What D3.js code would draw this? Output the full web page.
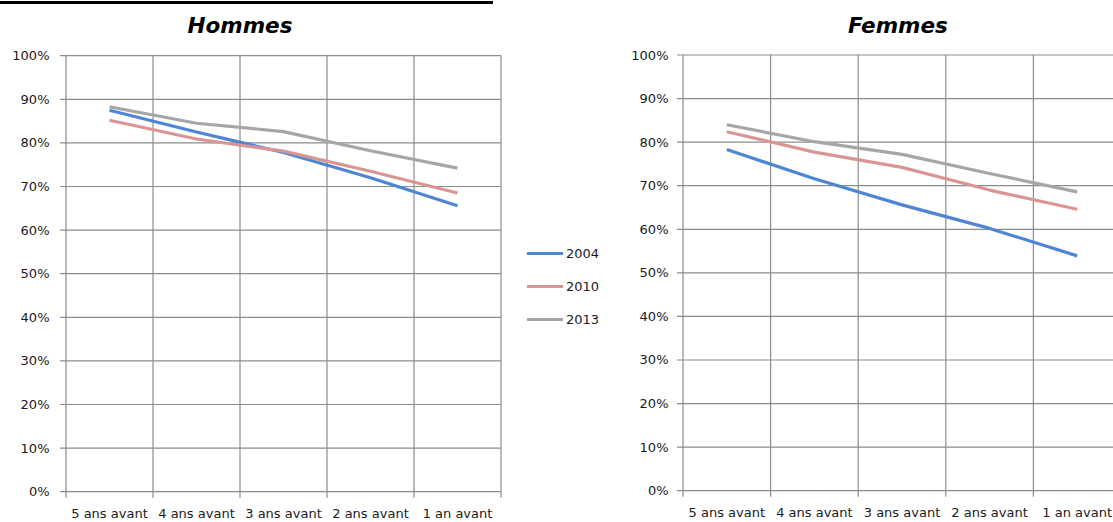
<!DOCTYPE html>
<html>
<head>
<meta charset="utf-8">
<script src="https://cdn.jsdelivr.net/npm/d3@7/dist/d3.min.js"></script>
<style>
  html, body { margin: 0; padding: 0; background: #fff; }
  svg { display: block; }
  text { font-family: "DejaVu Sans", Verdana, sans-serif; fill: #1a1a1a; }
</style>
</head>
<body>
<svg id="chart" width="1113" height="522"></svg>
<script>
// Categories on the horizontal axis
const categories = ["5 ans avant", "4 ans avant", "3 ans avant", "2 ans avant", "1 an avant"];

// Series names (legend)
const years = ["2004", "2010", "2013"];

// Hommes, share in %
const hommes2004 = [87.5, 82.5, 77.8, 72.0, 65.6];
const hommes2010 = [85.2, 80.9, 78.1, 73.5, 68.5];
const hommes2013 = [88.3, 84.5, 82.6, 78.2, 74.2];

// Femmes, share in %
const femmes2004 = [78.3, 71.6, 65.6, 60.2, 53.9];
const femmes2010 = [82.4, 77.7, 74.2, 69.0, 64.6];
const femmes2013 = [84.0, 80.1, 77.2, 72.8, 68.6];

// Y tick values (%)
const yTicks = [0, 10, 20, 30, 40, 50, 60, 70, 80, 90, 100];

const colors = { "2004": "#4f86d4", "2010": "#d99593", "2013": "#a6a6a6" };
const gridColor = "#8c8c8c";

const svg = d3.select("#chart");

// Cut-off heading above the charts (only its underline remains visible)
svg.append("line")
  .attr("x1", 0).attr("x2", 493).attr("y1", 2.5).attr("y2", 2.5)
  .attr("stroke", "#000").attr("stroke-width", 3);

function drawPanel(cfg) {
  const { title, titleX, left, right, top, bottom, labelX, series } = cfg;
  const g = svg.append("g");

  const x = d3.scaleBand().domain(categories).range([left, right]).padding(0);
  const y = d3.scaleLinear().domain([0, 100]).range([bottom, top]);

  // Horizontal gridlines with outward tick marks
  g.selectAll("line.h").data(yTicks).join("line")
    .attr("class", "h")
    .attr("x1", left - 6).attr("x2", right)
    .attr("y1", d => y(d)).attr("y2", d => y(d))
    .attr("stroke", gridColor).attr("stroke-width", 1.2);

  // Vertical gridlines at category boundaries, ticking below the axis
  const bounds = categories.map(c => x(c)).concat([x(categories[categories.length - 1]) + x.bandwidth()]);
  g.selectAll("line.v").data(bounds).join("line")
    .attr("class", "v")
    .attr("x1", d => d).attr("x2", d => d)
    .attr("y1", top).attr("y2", bottom + 6)
    .attr("stroke", gridColor).attr("stroke-width", 1.2);

  // Y tick labels
  g.selectAll("text.yl").data(yTicks).join("text")
    .attr("class", "yl")
    .attr("x", labelX).attr("y", d => y(d) + 4.5)
    .attr("text-anchor", "end")
    .style("font-size", "13px")
    .text(d => d + "%");

  // X category labels
  g.selectAll("text.xl").data(categories).join("text")
    .attr("class", "xl")
    .attr("x", d => x(d) + x.bandwidth() / 2).attr("y", bottom + 26.5)
    .attr("text-anchor", "middle")
    .style("font-size", "13px")
    .text(d => d);

  // Lines
  const line = d3.line()
    .x((d, i) => x(categories[i]) + x.bandwidth() / 2)
    .y(d => y(d));

  series.forEach(s => {
    g.append("path")
      .datum(s.values)
      .attr("d", line)
      .attr("fill", "none")
      .attr("stroke", colors[s.name])
      .attr("stroke-width", 3.2)
      .attr("stroke-linejoin", "round")
      .attr("stroke-linecap", "butt");
  });

  // Panel title
  svg.append("text")
    .attr("x", titleX).attr("y", 33)
    .attr("text-anchor", "middle")
    .style("font-size", "21.5px")
    .style("font-weight", "bold")
    .style("font-style", "italic")
    .style("fill", "#000")
    .text(title);
}

drawPanel({
  title: "Hommes", titleX: 240,
  left: 66, right: 501, top: 55.7, bottom: 491.7, labelX: 49.5,
  series: [
    { name: "2004", values: hommes2004 },
    { name: "2010", values: hommes2010 },
    { name: "2013", values: hommes2013 }
  ]
});

drawPanel({
  title: "Femmes", titleX: 898,
  left: 683, right: 1121, top: 55, bottom: 490.7, labelX: 668.5,
  series: [
    { name: "2004", values: femmes2004 },
    { name: "2010", values: femmes2010 },
    { name: "2013", values: femmes2013 }
  ]
});

// Legend
const legend = svg.append("g");
const legendY = d3.scalePoint().domain(years).range([253.5, 319.5]);
years.forEach(yr => {
  legend.append("line")
    .attr("x1", 527).attr("x2", 563)
    .attr("y1", legendY(yr)).attr("y2", legendY(yr))
    .attr("stroke", colors[yr]).attr("stroke-width", 3.2);
  legend.append("text")
    .attr("x", 566).attr("y", legendY(yr) + 4.7)
    .style("font-size", "13px")
    .text(yr);
});
</script>
</body>
</html>
